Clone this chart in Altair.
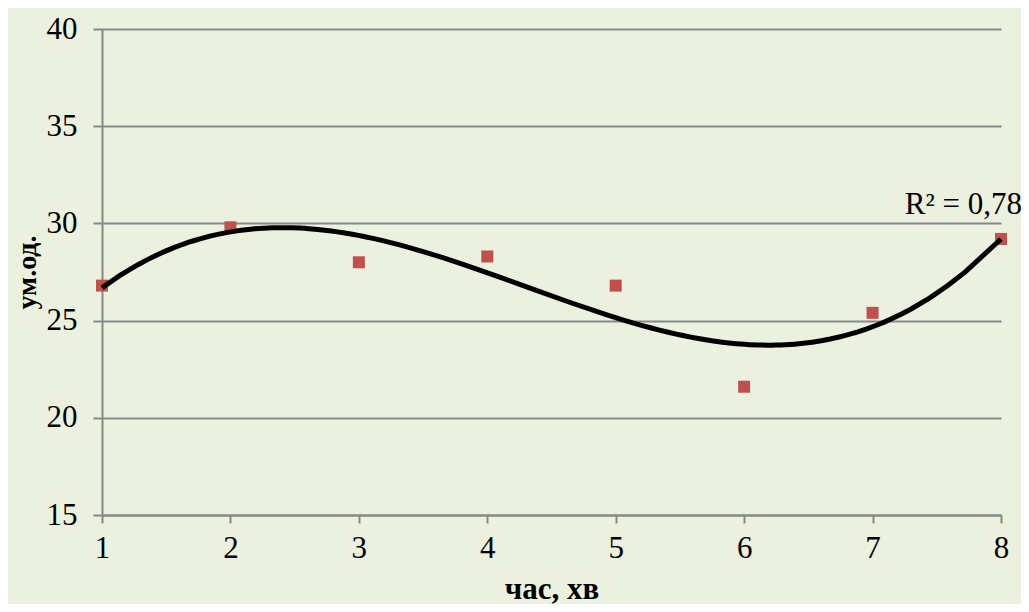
import altair as alt
import pandas as pd

x_vals = [1, 2, 3, 4, 5, 6, 7, 8]
y_vals = [26.8, 29.8, 28.0, 28.3, 26.8, 21.6, 25.4, 29.2]
r2_label = ["R² = 0,78"]

df = pd.DataFrame({"x": x_vals, "y": y_vals})
ann = pd.DataFrame({"x": [8], "y": [30.5], "t": r2_label})

FONT = "Liberation Serif"

xs = alt.Scale(domain=[1, 8], nice=False, zero=False)
ys = alt.Scale(domain=[15, 40], nice=False, zero=False)

xax = alt.Axis(title="час, хв", values=x_vals, format="d", grid=False,
               tickSize=8, labelPadding=10, titlePadding=11, labelFlush=False,
               labelFont=FONT, titleFont=FONT)
yax = alt.Axis(title="ум.од.", values=[15, 20, 25, 30, 35, 40], format="d", grid=True,
               tickSize=9, labelPadding=16, titlePadding=5, titleFontSize=28,
               labelFont=FONT, titleFont=FONT)

base = alt.Chart(df)

points = base.mark_square(size=144, color="#C0504D", opacity=1).encode(
    x=alt.X("x:Q", scale=xs, axis=xax),
    y=alt.Y("y:Q", scale=ys, axis=yax),
)

trend = base.transform_regression("x", "y", method="poly", order=3, extent=[1, 8]).mark_line(
    color="black", strokeWidth=5
).encode(x=alt.X("x:Q", scale=xs, axis=xax), y=alt.Y("y:Q", scale=ys, axis=yax))

label = alt.Chart(ann).mark_text(font=FONT, fontSize=31, color="black", align="right",
                                 baseline="alphabetic", dx=21).encode(
    x=alt.X("x:Q", scale=xs, axis=xax), y=alt.Y("y:Q", scale=ys, axis=yax), text="t:N")

chart = alt.layer(points, trend, label).properties(
    width=899, height=486,
    background="#EBF1DE",
    padding={"left": 94, "top": 21, "right": 20, "bottom": 89},
    autosize=alt.AutoSizeParams(type="none"),
).configure_view(stroke=None).configure_axis(
    labelFont=FONT, labelFontSize=31, labelColor="black",
    titleFont=FONT, titleFontSize=31, titleFontWeight="bold", titleColor="black",
    gridColor="#888888", gridWidth=2, tickColor="#888888", tickWidth=2,
    domainColor="#888888", domainWidth=2,
)

chart.save("out.html", embed_options={"renderer": "svg", "actions": False})
